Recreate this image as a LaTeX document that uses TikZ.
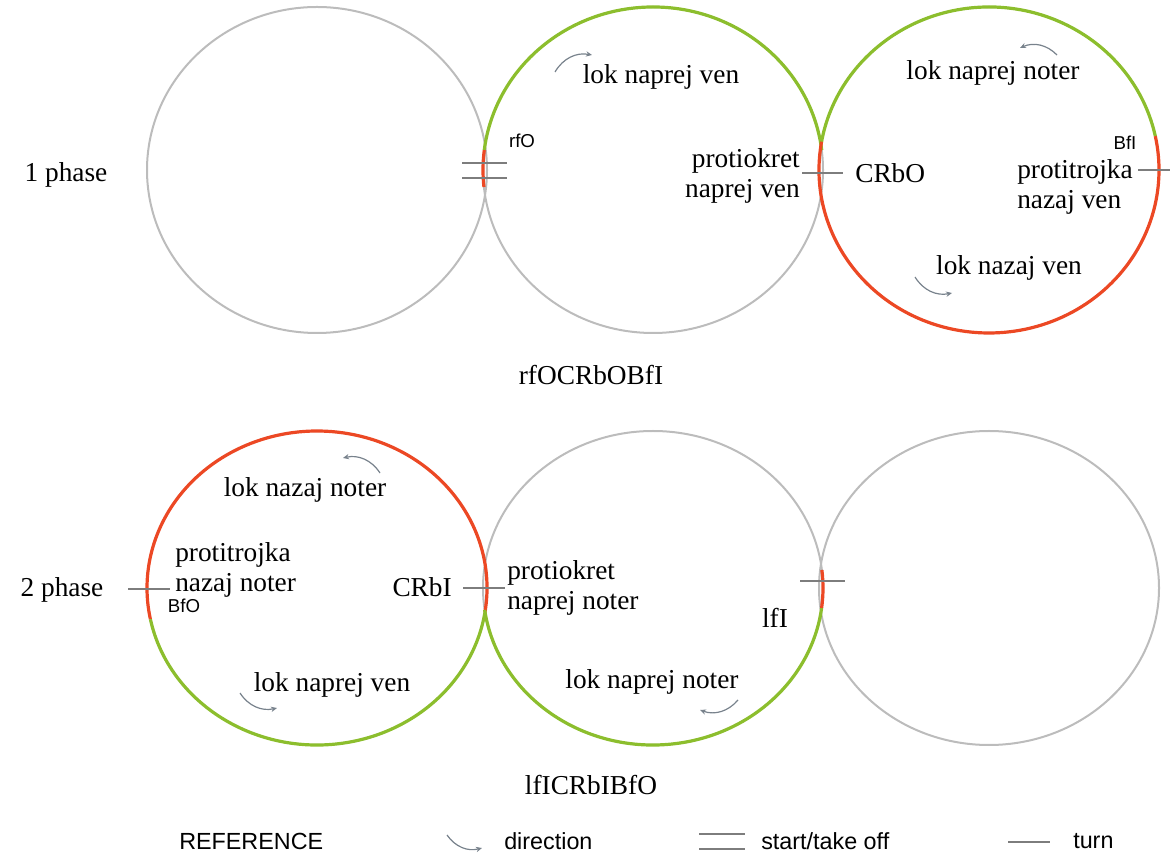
\documentclass[tikz,border=0pt]{standalone}
\usepackage{fontspec}
\setmainfont{Liberation Serif}
\newfontfamily\lsans{Liberation Sans}
\usetikzlibrary{arrows.meta}
\definecolor{cgray}{RGB}{188,188,188}
\definecolor{cgreen}{RGB}{140,190,45}
\definecolor{cred}{RGB}{236,72,36}
\definecolor{cline}{RGB}{125,125,125}
\definecolor{carrow}{RGB}{120,130,140}
\newcommand\myarc[7]{\draw[#1] ([shift={(#4:#5 and #6)}]#2,#3) arc[start angle=#4,end angle=#7,x radius=#5,y radius=#6];}
\begin{document}
\begin{tikzpicture}[x=0.75pt,y=0.75pt,
  circ/.style={draw=cgray,line width=1.5pt},
  gseg/.style={draw=cgreen,line width=2.4pt},
  rseg/.style={draw=cred,line width=2.4pt},
  tick/.style={draw=cline,line width=1.2pt},
  dirarrow/.style={draw=carrow,line width=0.9pt,-{Stealth[length=4.5pt,width=4pt]}},
  lbl/.style={font=\fontsize{20.5}{22.5}\selectfont,inner sep=0pt},
  small/.style={font=\lsans\fontsize{14}{16}\selectfont,inner sep=0pt},
  leg/.style={font=\lsans\fontsize{17.5}{20}\selectfont,inner sep=0pt,anchor=west}]
\useasboundingbox (0,0) rectangle (1170,853);
% ---------- top row circles
\draw[circ] (317,683) ellipse [x radius=170, y radius=163];
\draw[circ] (653,683) ellipse [x radius=170, y radius=163];
\draw[circ] (989,683) ellipse [x radius=170, y radius=163];
\myarc{gseg}{653}{683}{7}{170}{163}{173}
\myarc{rseg}{653}{683}{173}{170}{163}{186}
\myarc{gseg}{989}{683}{12}{170}{163}{170}
\myarc{rseg}{989}{683}{170}{170}{163}{372}
% ---------- bottom row circles
\draw[circ] (317,265) ellipse [x radius=170, y radius=157];
\draw[circ] (653,265) ellipse [x radius=170, y radius=157];
\draw[circ] (989,265) ellipse [x radius=170, y radius=157];
\myarc{rseg}{317}{265}{-9}{170}{157}{191.5}
\myarc{gseg}{317}{265}{191.5}{170}{157}{351}
\myarc{gseg}{653}{265}{188}{170}{157}{352.7}
\myarc{rseg}{653}{265}{352.7}{170}{157}{366.6}
% ---------- top row marks
\coordinate (r1a) at (462,690); \coordinate (r1b) at (507,690);
\coordinate (r2a) at (462,675); \coordinate (r2b) at (507,675);
\draw[tick] (r1a) -- (r1b);
\draw[tick] (r2a) -- (r2b);
\coordinate (c1a) at (802,680); \coordinate (c1b) at (843,680);
\draw[tick] (c1a) -- (c1b);
\coordinate (b1a) at (1138,683); \coordinate (b1b) at (1170,683);
\draw[tick] (b1a) -- (b1b);
% ---------- bottom row marks
\coordinate (p2a) at (128,264); \coordinate (p2b) at (170,264);
\draw[tick] (p2a) -- (p2b);
\coordinate (c2a) at (463,265); \coordinate (c2b) at (505,265);
\draw[tick] (c2a) -- (c2b);
\coordinate (f2a) at (800,272); \coordinate (f2b) at (845,272);
\draw[tick] (f2a) -- (f2b);
% ---------- direction arrows
\coordinate (a1s) at (555,781); \coordinate (a1e) at (592,798);
\draw[dirarrow] (a1s) to[bend left=35] (a1e);
\coordinate (a2s) at (1057,798); \coordinate (a2e) at (1020,805);
\draw[dirarrow] (a2s) to[bend right=35] (a2e);
\coordinate (a3s) at (915,576); \coordinate (a3e) at (952,560);
\draw[dirarrow] (a3s) to[bend right=35] (a3e);
\coordinate (a4s) at (380,380); \coordinate (a4e) at (343,395);
\draw[dirarrow] (a4s) to[bend right=35] (a4e);
\coordinate (a5s) at (240,160); \coordinate (a5e) at (277,145);
\draw[dirarrow] (a5s) to[bend right=35] (a5e);
\coordinate (a6s) at (738,153); \coordinate (a6e) at (700,143);
\draw[dirarrow] (a6s) to[bend left=35] (a6e);
% ---------- top row texts
\node[lbl] (ph1) at (66,678) {1 phase};
\node[small] (rfo) at (522,712) {rfO};
\node[lbl] (l1) at (661,776) {lok naprej ven};
\node[lbl,align=right,anchor=east] (pk1) at (800,677) {protiokret\\naprej ven};
\node[lbl,anchor=west] (crbo) at (855,680) {CRbO};
\node[lbl] (l2) at (993,780) {lok naprej noter};
\node[small] (bfi) at (1125,710) {BfI};
\node[lbl,align=left,anchor=west] (pt1) at (1017,666) {protitrojka\\nazaj ven};
\node[lbl] (l3) at (1009,585) {lok nazaj ven};
\node[lbl] (t1) at (591,478) {rfOCRbOBfI};
% ---------- bottom row texts
\node[lbl] (ph2) at (62,263) {2 phase};
\node[small] (bfo) at (184,247) {BfO};
\node[lbl,align=left,anchor=west] (pt2) at (175,283) {protitrojka\\nazaj noter};
\node[lbl] (l4) at (305,363) {lok nazaj noter};
\node[lbl,anchor=east] (crbi) at (452,266) {CRbI};
\node[lbl] (l5) at (332,168) {lok naprej ven};
\node[lbl,align=left,anchor=west] (pk2) at (507,265) {protiokret\\naprej noter};
\node[lbl] (lfi) at (775,235) {lfI};
\node[lbl] (l6) at (652,171) {lok naprej noter};
\node[lbl] (t2) at (591,68) {lfICRbIBfO};
% ---------- legend
\node[leg] (ref) at (179,12) {REFERENCE};
\coordinate (las) at (447,18); \coordinate (lae) at (482,5);
\draw[dirarrow] (las) to[bend right=35] (lae);
\node[leg] (ldir) at (504,12) {direction};
\coordinate (ld1a) at (699,19); \coordinate (ld1b) at (745,19);
\coordinate (ld2a) at (699,4); \coordinate (ld2b) at (745,4);
\draw[tick] (ld1a) -- (ld1b);
\draw[tick] (ld2a) -- (ld2b);
\node[leg] (lst) at (761,12) {start/take off};
\coordinate (lt1) at (1008,11); \coordinate (lt2) at (1050,11);
\draw[tick] (lt1) -- (lt2);
\node[leg] (ltu) at (1073,12) {turn};
\end{tikzpicture}
\end{document}
